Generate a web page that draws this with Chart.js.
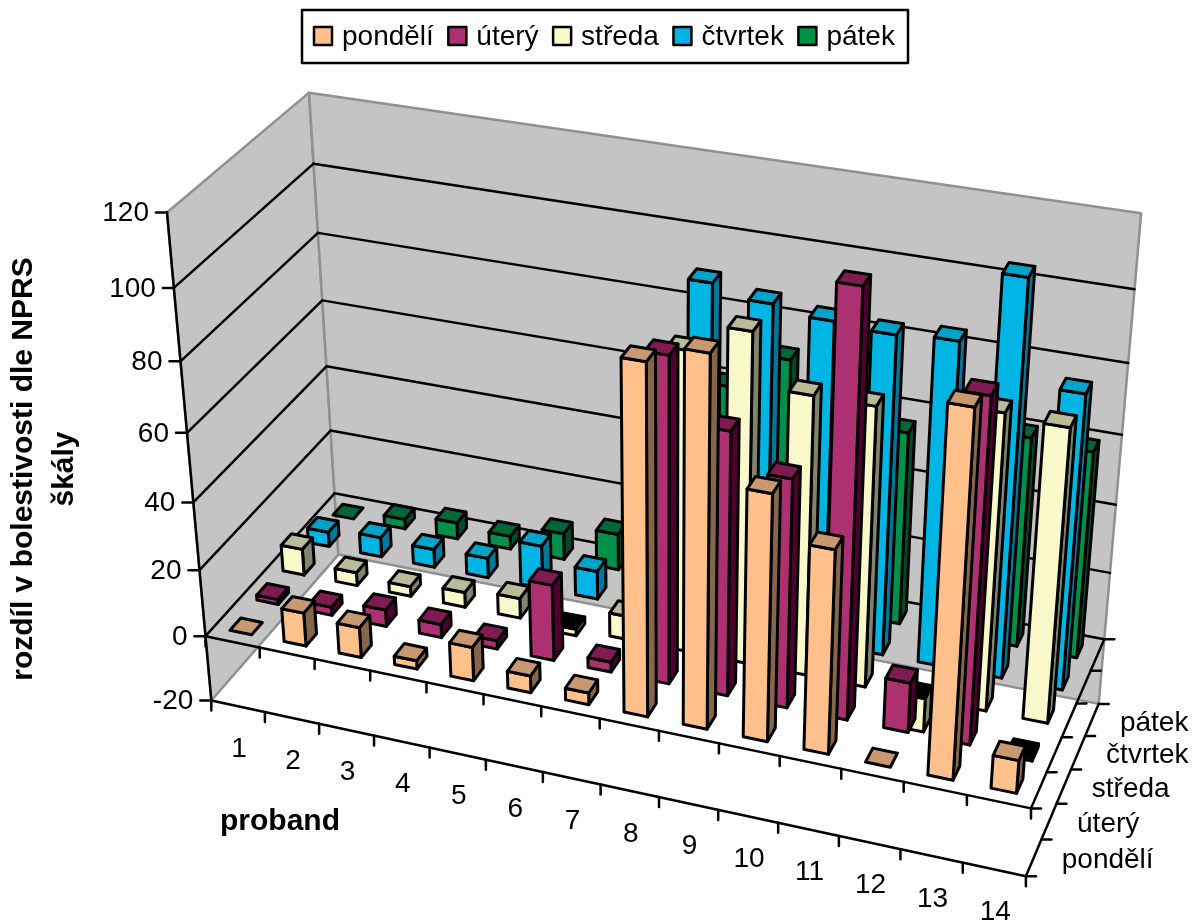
<!DOCTYPE html>
<html>
<head>
<meta charset="utf-8">
<title>rozdíl v bolestivosti</title>
<script src="https://cdn.jsdelivr.net/npm/chart.js@4/dist/chart.umd.min.js"></script>
<style>
  body { margin: 0; background: #fff; }
  canvas { display: block; }
</style>
</head>
<body>
<canvas id="graf" width="1193" height="922"></canvas>
<script>
const probandi = ["1", "2", "3", "4", "5", "6", "7", "8", "9", "10", "11", "12", "13", "14"];
const dny = ["pondělí", "úterý", "středa", "čtvrtek", "pátek"];

const pondeli = [0, 10, 9, 2.5, 10, 5, 3.5, 99, 104, 70, 58, 0, 101.5, 9.5];
const utery = [1.5, 2.5, 5, 4, 2.5, 22.5, 3, 93, 75.5, 65.5, 119, 14.5, 96.5, -1];
const streda = [8, 4, 3, 4.5, 6, -2, 7, 86.5, 94.5, 80, 80, -10, 84, 83];
const ctvrtek = [4.5, 6, 5.5, 6, 13, 8.5, 5, 97.5, 94.5, 92.5, 91.5, 92.5, 112, 84];
const patek = [0, 3, 5, 4, 8, 11, 10, 61, 71.5, 60, 56.5, 50, 61, 60];

// barvy sloupcu: predni stena, horni stena, bocni stena
const barvyPredni = ["#FFC08C", "#AD3070", "#F8F8C8", "#00B4E4", "#009048"];
const barvyHorni = ["#C89870", "#7F1A52", "#B8BC98", "#00A4C8", "#006838"];
const barvyBocni = ["#85664B", "#4F0030", "#80846C", "#00789C", "#004C28"];

const FONT = '"Liberation Sans", Arial, sans-serif';
const SIRKA_SLOUPCE = 0.4; // podil kategorie, stejne do hloubky

// opěrné body krychle: proband, hodnota, den, pixel x, pixel y
const kotvy = [
  [0, 120, 0, 168, 212], [0, 100, 0, 174, 288], [0, 40, 0, 193, 503],
  [0, 0, 0, 205, 636], [0, -20, 0, 211, 701],
  [0, 120, 5, 308, 93], [0, 0, 5, 335, 493], [0, -20, 5, 339, 554],
  [14, 120, 5, 1141, 213], [14, 0, 5, 1105, 640], [14, -20, 5, 1098, 704],
  [14, 0, 0, 1032, 808], [14, -20, 0, 1025, 876]
];

// projekcni matice 3x4 z kotev, metoda nejmensich ctvercu
function spocitejMatici() {
  const n = 11;
  const A = [];
  for (let i = 0; i < n; i++) A.push(new Array(n + 1).fill(0));
  function pridej(r, b) {
    for (let i = 0; i < n; i++) {
      for (let j = 0; j < n; j++) A[i][j] += r[i] * r[j];
      A[i][n] += r[i] * b;
    }
  }
  kotvy.forEach(k => {
    const X = k[0] / 14, Y = (k[1] + 20) / 140, Z = k[2] / 5, u = k[3], v = k[4];
    pridej([X, Y, Z, 1, 0, 0, 0, 0, -u * X, -u * Y, -u * Z], u);
    pridej([0, 0, 0, 0, X, Y, Z, 1, -v * X, -v * Y, -v * Z], v);
  });
  for (let i = 0; i < n; i++) {
    let max = i;
    for (let r = i + 1; r < n; r++) if (Math.abs(A[r][i]) > Math.abs(A[max][i])) max = r;
    [A[i], A[max]] = [A[max], A[i]];
    for (let r = 0; r < n; r++) {
      if (r === i) continue;
      const f = A[r][i] / A[i][i];
      for (let c = i; c <= n; c++) A[r][c] -= f * A[i][c];
    }
  }
  return A.map((r, i) => r[n] / r[i]);
}
const P = spocitejMatici();

function promitni(X, Y, Z) {
  const w = P[8] * X + P[9] * Y + P[10] * Z + 1;
  return {
    x: (P[0] * X + P[1] * Y + P[2] * Z + P[3]) / w,
    y: (P[4] * X + P[5] * Y + P[6] * Z + P[7]) / w
  };
}

// prepocet pres osy grafu: kategorie a den jsou indexy, hodnota je na ose y
function bod(chart, iProband, hodnota, iDen) {
  const s = chart.scales;
  const X = s.x.getDecimalForPixel(s.x.getPixelForValue(iProband - 0.5));
  const Y = s.y.getDecimalForPixel(s.y.getPixelForValue(hodnota));
  const Z = s.z.getDecimalForPixel(s.z.getPixelForValue(iDen - 0.5));
  return promitni(X, Y, Z);
}

function mnohouhelnik(ctx, body, vypln) {
  ctx.beginPath();
  body.forEach((b, i) => i ? ctx.lineTo(b.x, b.y) : ctx.moveTo(b.x, b.y));
  ctx.closePath();
  if (vypln) { ctx.fillStyle = vypln; ctx.fill(); }
  ctx.stroke();
}

function cara(ctx, a, b, barva, sirka) {
  ctx.strokeStyle = barva;
  ctx.lineWidth = sirka;
  ctx.beginPath();
  ctx.moveTo(a.x, a.y);
  ctx.lineTo(b.x, b.y);
  ctx.stroke();
}

function steny(chart, ctx) {
  const yMin = chart.scales.y.min, yMax = chart.scales.y.max;
  const nX = probandi.length, nZ = dny.length;
  const b = (x, y, z) => bod(chart, x, y, z);

  ctx.lineJoin = "round";
  ctx.lineCap = "round";
  ctx.strokeStyle = "#909090";
  ctx.lineWidth = 2.5;
  mnohouhelnik(ctx, [b(0, yMin, 0), b(0, yMax, 0), b(0, yMax, nZ), b(0, yMin, nZ)], "#C4C4C4");
  mnohouhelnik(ctx, [b(0, yMin, nZ), b(0, yMax, nZ), b(nX, yMax, nZ), b(nX, yMin, nZ)], "#C4C4C4");

  // mrizka na stenach
  chart.scales.y.ticks.forEach(t => {
    if (t.value === yMin || t.value === yMax) return;
    cara(ctx, b(0, t.value, 0), b(0, t.value, nZ), "#000", 2.5);
    cara(ctx, b(0, t.value, nZ), b(nX, t.value, nZ), "#000", 2.5);
  });
  cara(ctx, b(0, yMax, 0), b(0, yMin, 0), "#000", 2.5);

  // osy na podlaze a v nulove rovine
  [yMin, 0].forEach(h => {
    cara(ctx, b(0, h, 0), b(nX, h, 0), "#000", 2.5);
    cara(ctx, b(nX, h, 0), b(nX, h, nZ), "#000", 2.5);
    for (let i = 0; i <= nX; i++) {
      const p = b(i, h, 0);
      cara(ctx, p, { x: p.x, y: p.y + 10 }, "#000", 2.5);
    }
    for (let i = 0; i <= nZ; i++) {
      const p = b(nX, h, i);
      cara(ctx, p, { x: p.x + 10, y: p.y }, "#000", 2.5);
    }
  });
  chart.scales.y.ticks.forEach(t => {
    const p = b(0, t.value, 0);
    cara(ctx, p, { x: p.x - 11, y: p.y }, "#000", 2.5);
  });
}

function sloupec(chart, ctx, iProband, iDen, hodnota) {
  const okraj = (1 - SIRKA_SLOUPCE) / 2;
  const x0 = iProband + okraj, x1 = iProband + 1 - okraj;
  const z0 = iDen + okraj, z1 = iDen + 1 - okraj;
  const vrch = Math.max(hodnota, 0), spodek = Math.min(hodnota, 0);
  const b = (x, y, z) => bod(chart, x, y, z);

  ctx.strokeStyle = "#000";
  ctx.lineWidth = 3;
  if (vrch !== spodek) {
    mnohouhelnik(ctx, [b(x1, spodek, z0), b(x1, vrch, z0), b(x1, vrch, z1), b(x1, spodek, z1)], barvyBocni[iDen]);
    mnohouhelnik(ctx, [b(x0, spodek, z0), b(x0, vrch, z0), b(x1, vrch, z0), b(x1, spodek, z0)], barvyPredni[iDen]);
  }
  // zaporny sloupec ma horni stenu cernou
  const horni = hodnota < 0 ? "#000" : barvyHorni[iDen];
  mnohouhelnik(ctx, [b(x0, vrch, z0), b(x1, vrch, z0), b(x1, vrch, z1), b(x0, vrch, z1)], horni);
}

function popisky(chart, ctx) {
  const nX = probandi.length;
  const yMin = chart.scales.y.min;
  ctx.fillStyle = "#000";
  ctx.textBaseline = "middle";
  ctx.font = "28px " + FONT;

  ctx.textAlign = "right";
  chart.scales.y.ticks.forEach(t => {
    const p = bod(chart, 0, t.value, 0);
    ctx.fillText(String(t.value), p.x - 18, p.y + 1);
  });

  ctx.textAlign = "center";
  chart.scales.x.getLabels().forEach((l, i) => {
    const p = bod(chart, i + 0.5, yMin, 0);
    ctx.fillText(l, p.x + 1, p.y + 43);
  });

  ctx.textAlign = "left";
  chart.scales.z.getLabels().forEach((l, i) => {
    const p = bod(chart, nX, yMin, i + 0.5);
    ctx.fillText(l, p.x + 28, p.y + 3);
  });

  ctx.font = "bold 30px " + FONT;
  ctx.textAlign = "center";
  ctx.fillText("proband", 280, 822);
  ctx.save();
  ctx.translate(24, 469);
  ctx.rotate(-Math.PI / 2);
  ctx.fillText("rozdíl v bolestivosti dle NPRS", 0, 0);
  ctx.fillText("škály", 0, 41);
  ctx.restore();
}

function legenda(chart, ctx) {
  ctx.strokeStyle = "#000";
  ctx.lineWidth = 2.5;
  ctx.strokeRect(302, 10, 606, 53);
  ctx.font = "28px " + FONT;
  ctx.textAlign = "left";
  ctx.textBaseline = "middle";
  let x = 314;
  chart.data.datasets.forEach(d => {
    ctx.fillStyle = d.backgroundColor;
    ctx.fillRect(x, 27, 18, 18);
    ctx.strokeRect(x, 27, 18, 18);
    ctx.fillStyle = "#000";
    ctx.fillText(d.label, x + 28, 37);
    x += 28 + ctx.measureText(d.label).width + 14.5;
  });
}

// graf kreslime sami, standardni vykresleni sloupcu se preskoci
const kresba3d = {
  id: "kresba3d",
  beforeDatasetsDraw(chart) {
    const ctx = chart.ctx;
    ctx.save();
    steny(chart, ctx);
    for (let d = dny.length - 1; d >= 0; d--) {
      const hodnoty = chart.data.datasets[d].data;
      hodnoty.forEach((h, i) => sloupec(chart, ctx, i, d, h));
    }
    popisky(chart, ctx);
    legenda(chart, ctx);
    ctx.restore();
    return false;
  }
};

const serie = [pondeli, utery, streda, ctvrtek, patek];

new Chart(document.getElementById("graf"), {
  type: "bar",
  data: {
    labels: probandi,
    datasets: dny.map((d, i) => ({
      label: d,
      data: serie[i],
      backgroundColor: barvyPredni[i]
    }))
  },
  plugins: [kresba3d],
  options: {
    responsive: false,
    animation: false,
    scales: {
      x: { type: "category", display: false, offset: true },
      y: { type: "linear", display: false, min: -20, max: 120, ticks: { stepSize: 20 } },
      z: { type: "category", axis: "x", display: false, offset: true, labels: dny }
    },
    plugins: {
      tooltip: { enabled: false },
      legend: { display: false }
    }
  }
});
</script>
</body>
</html>
